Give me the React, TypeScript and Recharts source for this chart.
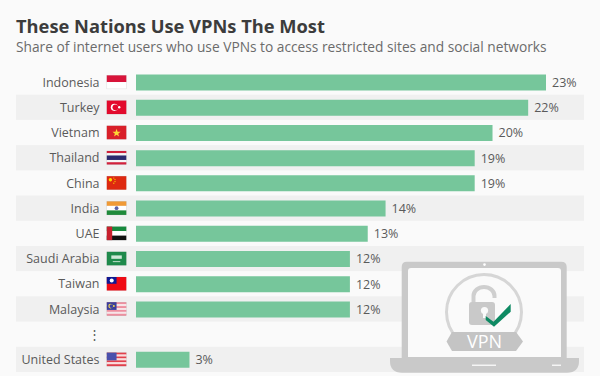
import { BarChart, Bar, XAxis, YAxis, LabelList, ReferenceArea } from 'recharts'

const countries = ['Indonesia', 'Turkey', 'Vietnam', 'Thailand', 'China', 'India', 'UAE', 'Saudi Arabia', 'Taiwan', 'Malaysia', '⋮', 'United States']
const shares = [23, 22, 20, 19, 19, 14, 13, 12, 12, 12, null, 3]
const shadedRows = ['Turkey', 'Thailand', 'India', 'Saudi Arabia', 'Malaysia', 'United States']

const rows = countries.map((name, i) => ({ name, share: shares[i] }))

const FONT = '"Open Sans", sans-serif'

// flags are drawn in a 19.5 x 13.5 box
const W = 19.5
const H = 13.5

function stripes(colors: string[], weights?: number[]) {
  const total = (weights || colors.map(() => 1)).reduce((a, b) => a + b, 0)
  let y = 0
  return colors.map((c, i) => {
    const h = (H * (weights ? weights[i] : 1)) / total
    const r = <rect key={i} x={0} y={y} width={W} height={h} fill={c} />
    y += h
    return r
  })
}

const flags: Record<string, () => any> = {
  Indonesia: () => stripes(['#d8143a', '#ffffff']),
  Turkey: () => (
    <>
      <rect width={W} height={H} fill="#e30a2c" />
      <circle cx={7.6} cy={6.75} r={3.6} fill="#fff" />
      <circle cx={8.6} cy={6.75} r={2.9} fill="#e30a2c" />
      <circle cx={12.4} cy={6.75} r={1.2} fill="#fff" />
    </>
  ),
  Vietnam: () => (
    <>
      <rect width={W} height={H} fill="#d9202a" />
      <polygon points="9.75,3 10.8,6 13.8,6 11.4,7.9 12.3,10.8 9.75,9 7.2,10.8 8.1,7.9 5.7,6 8.7,6" fill="#fdd835" />
    </>
  ),
  Thailand: () => stripes(['#d2213c', '#f5f5f5', '#2b2a6e', '#f5f5f5', '#d2213c'], [1, 1, 2, 1, 1]),
  China: () => (
    <>
      <rect width={W} height={H} fill="#de2910" />
      <circle cx={3.6} cy={3.6} r={1.7} fill="#ffde00" />
      <circle cx={7} cy={1.8} r={0.6} fill="#ffde00" />
      <circle cx={8.2} cy={3.4} r={0.6} fill="#ffde00" />
      <circle cx={8.2} cy={5.4} r={0.6} fill="#ffde00" />
      <circle cx={7} cy={7} r={0.6} fill="#ffde00" />
    </>
  ),
  India: () => (
    <>
      {stripes(['#f09a36', '#ffffff', '#1f8a3a'])}
      <circle cx={W / 2} cy={H / 2} r={1.9} fill="#5a62a8" />
    </>
  ),
  UAE: () => (
    <>
      {stripes(['#178a3e', '#ffffff', '#111111'])}
      <rect width={5.4} height={H} fill="#c8202e" />
    </>
  ),
  'Saudi Arabia': () => (
    <>
      <rect width={W} height={H} fill="#1f8a4c" />
      <rect x={4.5} y={3.6} width={10.5} height={3.4} fill="#cfe8d8" />
      <rect x={6} y={9.4} width={7.5} height={0.9} fill="#cfe8d8" />
    </>
  ),
  Taiwan: () => (
    <>
      <rect width={W} height={H} fill="#f00a14" />
      <rect width={9.75} height={6.75} fill="#0d1a96" />
      <circle cx={4.9} cy={3.4} r={2} fill="#fff" />
    </>
  ),
  Malaysia: () => (
    <>
      {stripes(['#ee8fa0', '#f8e4e8', '#ee8fa0', '#f8e4e8', '#ee8fa0', '#f8e4e8', '#ee8fa0'])}
      <rect width={9.75} height={7.7} fill="#3b3f9c" />
      <circle cx={3.8} cy={3.85} r={2.3} fill="#f3d64e" />
      <circle cx={4.6} cy={3.85} r={1.9} fill="#3b3f9c" />
      <circle cx={7} cy={3.85} r={1} fill="#f3d64e" />
    </>
  ),
  'United States': () => (
    <>
      {stripes(['#e2404c', '#fbdcdc', '#e2404c', '#fbdcdc', '#e2404c', '#fbdcdc', '#e2404c'])}
      <rect width={9.75} height={7.7} fill="#4a50ac" />
    </>
  ),
}

function CountryTick({ y, payload }: any) {
  const name = payload.value
  const Flag = flags[name]
  return (
    <g>
      <text
        x={Flag ? 99.5 : 94.5}
        y={y}
        dy={4.6}
        textAnchor={Flag ? 'end' : 'middle'}
        fontFamily={FONT}
        fontSize={12.5}
        fill="#5a5a5a"
      >
        {name}
      </text>
      {Flag && (
        <g transform={`translate(106.8 ${y - H / 2})`}>
          {Flag()}
          <rect width={W} height={H} fill="none" stroke="#000" strokeOpacity={0.12} strokeWidth={0.5} />
        </g>
      )}
    </g>
  )
}

// row shading runs wider than the plot area, under the labels too
function RowBand({ y, height }: any) {
  return <rect x={16} y={y} width={568} height={height} fill="#f0f0f0" />
}

function LaptopIcon() {
  return (
    <svg width={600} height={376} style={{ position: 'absolute', left: 0, top: 0 }}>
      <path d="M401.7 358 V267 Q401.7 261.7 407 261.7 H561 Q566.7 261.7 566.7 267 V358 Z" fill="#c9c9c9" />
      <path d="M408 271 Q408 268 411 268 H558 Q561 268 561 271 V357 H408 Z" fill="#fafafa" />
      <circle cx={484.5} cy={264.6} r={1.3} fill="#fff" />
      <path d="M390 358 H579 V361 Q579 372.7 567 372.7 H402 Q390 372.7 390 361 Z" fill="#c9c9c9" />
      <rect x={472} y={364.6} width={24} height={1.2} fill="#fff" />
      <rect x={552} y={364.6} width={9} height={1.2} fill="#fff" />
      <circle cx={484} cy={312} r={37.5} fill="none" stroke="#d6d6d6" strokeWidth={3} />
      <path d="M473.5 302 V296 A10.5 9 0 0 1 494.5 296 V298" fill="none" stroke="#cfcfcf" strokeWidth={4} />
      <rect x={469} y={302} width={26} height={23} rx={3} fill="#c9c9c9" />
      <circle cx={484.5} cy={310.5} r={3.6} fill="#fafafa" />
      <rect x={483} y={311} width={3} height={7} fill="#fafafa" />
      <polygon points="485.7,316 493.5,321.7 510.7,304 510.7,311.7 494,326.7 485.7,320" fill="#0e8a63" />
      <polygon points="452,332 516,332 523,341.5 516,351 452,351 446.5,341.5" fill="#c4c4c4" />
      <text x={484.5} y={347.5} textAnchor="middle" fontFamily={FONT} fontSize={18} fill="#fff">
        VPN
      </text>
    </svg>
  )
}

export default function App() {
  return (
    <div style={{ position: 'absolute', left: 0, top: 0, width: 600, height: 376, background: '#fafafa', overflow: 'hidden' }}>
      <BarChart
        layout="vertical"
        width={600}
        height={376}
        data={rows}
        margin={{ top: 69.5, right: 54, bottom: 4, left: 16 }}
      >
        <XAxis type="number" hide domain={[0, 23]} />
        <YAxis
          type="category"
          dataKey="name"
          width={120}
          axisLine={false}
          tickLine={false}
          interval={0}
          tick={CountryTick}
        />
        {shadedRows.map((name) => (
          <ReferenceArea key={name} y1={name} y2={name} shape={RowBand} ifOverflow="visible" />
        ))}
        <Bar dataKey="share" fill="#76c69b" barSize={16} isAnimationActive={false}>
          <LabelList
            dataKey="share"
            position="right"
            offset={6}
            formatter={(v: any) => (v == null ? '' : `${v}%`)}
            style={{ fontFamily: FONT, fontSize: 12.5, fill: '#5a5a5a' }}
          />
        </Bar>
      </BarChart>
      <LaptopIcon />
      <div style={{ position: 'absolute', left: 16, top: 12, fontFamily: FONT, fontWeight: 700, fontSize: 18.3, lineHeight: '28px', color: '#3c3c3c', whiteSpace: 'nowrap' }}>
        These Nations Use VPNs The Most
      </div>
      <div style={{ position: 'absolute', left: 16, top: 37, fontFamily: FONT, fontSize: 13.74, lineHeight: '20px', color: '#6b6b6b', whiteSpace: 'nowrap' }}>
        Share of internet users who use VPNs to access restricted sites and social networks
      </div>
    </div>
  )
}
